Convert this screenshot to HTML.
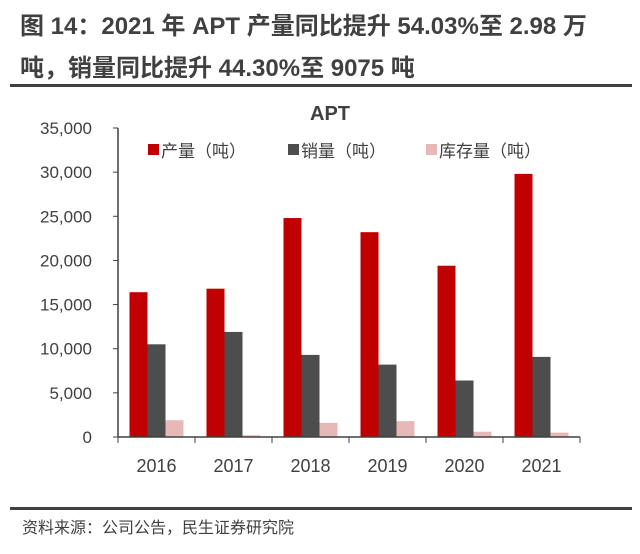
<!DOCTYPE html>
<html><head><meta charset="utf-8"><style>
body{margin:0;width:640px;height:554px;background:#fff;font-family:"Liberation Sans","Noto Sans CJK SC",sans-serif;overflow:hidden;position:relative}
.t{position:absolute;left:20px;font-size:24px;font-weight:bold;color:#404040;white-space:nowrap}
</style></head><body>
<div class="t" style="top:6px">图 14：2021 年 APT 产量同比提升 54.03%至 2.98 万</div>
<div class="t" style="top:48px">吨，销量同比提升 44.30%至 9075 吨</div>
<div style="position:absolute;left:10px;top:84px;width:622px;height:3px;background:#404040"></div>
<svg id="c" width="640" height="554" style="position:absolute;left:0;top:0"></svg>
<div style="position:absolute;left:10px;top:507px;width:622px;height:3px;background:#404040"></div>
<div style="position:absolute;left:22px;top:514px;font-size:16px;color:#404040">资料来源：公司公告，民生证券研究院</div>
<script>
const categories=["2016","2017","2018","2019","2020","2021"];
const production=[16400,16800,24800,23200,19400,29800];
const sales=[10500,11900,9300,8200,6400,9075];
const inventory=[1900,200,1600,1800,600,500];
const yTicks=[0,5000,10000,15000,20000,25000,30000,35000];
const svg=document.getElementById('c');const NS="http://www.w3.org/2000/svg";
const x0=118,x1=580,y0=437,yTop=128,maxV=35000;
const gw=(x1-x0)/categories.length;
const y=v=>y0-(v/maxV)*(y0-yTop);
function mk(t,a){const e=document.createElementNS(NS,t);for(const k in a)e.setAttribute(k,a[k]);svg.appendChild(e);return e;}
let e;
e=mk('text',{x:330,y:120,'text-anchor':'middle','font-size':20,'font-weight':'bold',fill:'#404040'});e.textContent='APT';


yTicks.forEach(v=>{
 e=mk('text',{x:92,y:y(v)+6,'text-anchor':'end','font-size':17,fill:'#404040'});e.textContent=v.toLocaleString('en-US');
 
 
 e=mk('line',{x1:x0-5,x2:x0,y1:y(v),y2:y(v),stroke:'#404040'});
 
 
});
const series=[[production,'#c00000','production'],[sales,'#4d4d4d','sales'],[inventory,'#e6b9b8','inventory']];
const bw=18;
categories.forEach((c,i)=>{
 const cx=x0+gw*(i+0.5);
 series.forEach((s,j)=>{
  const v=s[0][i];
  e=mk('rect',{x:cx-bw*1.5+j*bw,y:y(v),width:bw,height:y0-y(v),fill:s[1]});
  
  
 });
 e=mk('text',{x:cx,y:y0+35,'text-anchor':'middle','font-size':18,fill:'#404040'});e.textContent=c;
 
 
});
for(let i=0;i<=categories.length;i++){
 e=mk('line',{x1:x0+gw*i,x2:x0+gw*i,y1:y0,y2:y0+6,stroke:'#404040'});
 
 
}
e=mk('line',{x1:x0,x2:x0,y1:yTop,y2:y0,stroke:'#404040','stroke-width':1.5});


e=mk('line',{x1:x0,x2:x1,y1:y0,y2:y0,stroke:'#404040','stroke-width':1.5});


const legend=[['产量（吨）','#c00000',148],['销量（吨）','#4d4d4d',288],['库存量（吨）','#e6b9b8',426]];
legend.forEach(l=>{
 e=mk('rect',{x:l[2],y:144,width:11,height:11,fill:l[1]});
 
 
 e=mk('text',{x:l[2]+13,y:157,'font-size':17,fill:'#404040'});e.textContent=l[0];
 
 
});
</script>
</body></html>
